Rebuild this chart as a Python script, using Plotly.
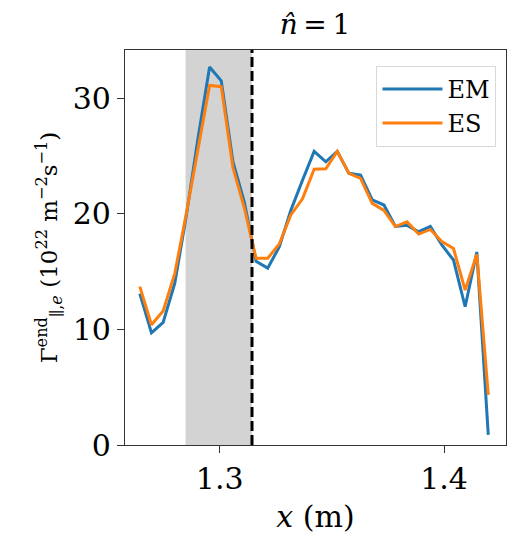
import plotly.graph_objects as go

x_vals = [1.2644, 1.2696, 1.2748, 1.2800, 1.2851, 1.2903, 1.2955, 1.3007, 1.3059, 1.3110,
          1.3162, 1.3214, 1.3266, 1.3317, 1.3369, 1.3421, 1.3473, 1.3524, 1.3576, 1.3628,
          1.3680, 1.3732, 1.3783, 1.3835, 1.3887, 1.3939, 1.3990, 1.4042, 1.4094, 1.4146,
          1.4197]
em_vals = [13.1, 9.7, 10.6, 14.0, 19.8, 26.5, 32.7, 31.5, 24.5, 21.0,
           15.9, 15.3, 17.15, 20.3, 22.9, 25.4, 24.5, 25.4, 23.5, 23.35,
           21.2, 20.76, 18.9, 19.0, 18.45, 18.9, 17.3, 16.0, 11.96, 16.7,
           0.87]
es_vals = [13.7, 10.4, 11.6, 14.85, 20.0, 25.5, 31.1, 31.0, 24.0, 20.5,
           16.15, 16.15, 17.4, 19.9, 21.3, 23.85, 23.9, 25.4, 23.5, 23.07,
           20.9, 20.3, 18.9, 19.3, 18.25, 18.65, 17.6, 17.0, 13.4, 16.5,
           4.33]
shade_span = [1.2848, 1.3144]
dashed_x = 1.3144
x_ticks = [1.3, 1.4]
y_ticks = [0, 10, 20, 30]

FONT = "DejaVu Serif"

fig = go.Figure()
fig.add_vrect(x0=shade_span[0], x1=shade_span[1], fillcolor="#d3d3d3", opacity=1,
              line_width=0, layer="below")
fig.add_trace(go.Scatter(x=x_vals, y=em_vals, mode="lines", name="EM",
                         line=dict(color="#1f77b4", width=3)))
fig.add_trace(go.Scatter(x=x_vals, y=es_vals, mode="lines", name="ES",
                         line=dict(color="#ff7f0e", width=3)))
fig.add_vline(x=dashed_x, line=dict(color="black", width=3, dash="10px,4px"))

fig.update_layout(
    width=508, height=535,
    margin=dict(l=125, r=2, t=50, b=90),
    paper_bgcolor="white", plot_bgcolor="white",
    font=dict(family=FONT, color="black", size=30),
    title=dict(text="<i>n\u0302</i>\u2009=\u20091", x=0.62, xanchor="center", y=0.955, yanchor="middle",
               font=dict(size=28, family=FONT)),
    legend=dict(x=0.975, y=0.96, xanchor="right", yanchor="top",
                bgcolor="rgba(255,255,255,0.8)", bordercolor="#d8d8d8", borderwidth=1,
                font=dict(size=24, family=FONT), itemwidth=60, tracegroupgap=4),
    showlegend=True,
)
fig.update_xaxes(range=[1.2578, 1.4276], tickvals=x_ticks, ticktext=["1.3", "1.4"],
                 ticks="outside", ticklen=7, tickcolor="#333", showgrid=False, zeroline=False,
                 showline=True, linecolor="#333", linewidth=1.2, mirror=True,
                 title=dict(text="<i>x</i> (m)", font=dict(size=30), standoff=10),
                 tickfont=dict(size=30))
fig.update_yaxes(range=[0, 34.17], tickvals=y_ticks, ticks="outside", ticklen=7, tickcolor="#333",
                 showgrid=False, zeroline=False, showline=True, linecolor="#333", linewidth=1.2,
                 mirror=True,
                 title=dict(text="\u0393<sup>end</sup><sub>\u2225,<i>e</i></sub> (10<sup>22</sup> m<sup>\u22122</sup>s<sup>\u22121</sup>)",
                            font=dict(size=23), standoff=8),
                 tickfont=dict(size=30))

fig.write_html("out.html")
